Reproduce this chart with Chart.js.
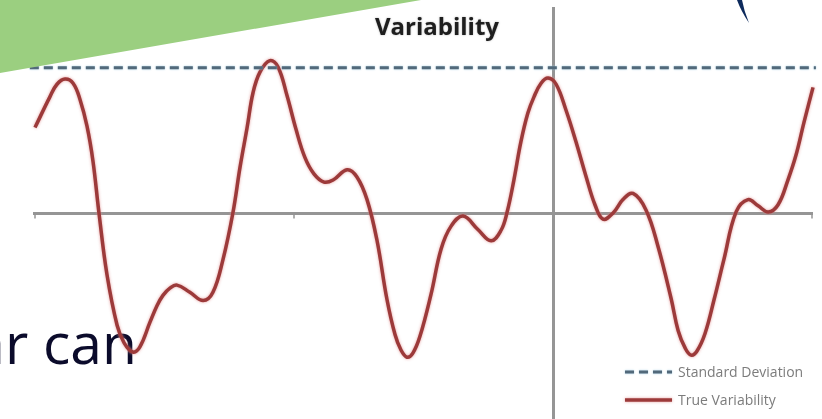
<!DOCTYPE html>
<html>
<head>
<meta charset="utf-8">
<script src="https://cdn.jsdelivr.net/npm/chart.js@4.4.1/dist/chart.umd.min.js"></script>
<style>
  html, body { margin: 0; padding: 0; background: #ffffff; }
  #wrap { position: relative; width: 822px; height: 419px; overflow: hidden; background: #fff; }
  #bigText { position: absolute; left: -200px; top: 314px; width: 337px; text-align: right;
    font-family: "Open Sans", sans-serif; font-size: 57px; line-height: 57px; color: #0b0b2b; white-space: nowrap; }
  #chartTitle { position: absolute; left: 337px; top: 13px; width: 200px; text-align: center;
    font-family: "Open Sans", sans-serif; font-weight: bold; font-size: 24px; line-height: 25px; color: #1e1e1e;
    text-shadow: 0 0 2px rgba(140,140,140,0.7); }
  canvas#c { position: absolute; left: 0; top: 0; }
  svg#deco { position: absolute; left: 0; top: 0; pointer-events: none; }
</style>
</head>
<body>
<div id="wrap">
  <div id="bigText">ar can</div>
  <canvas id="c" width="822" height="419"></canvas>
  <div id="chartTitle">Variability</div>
  <svg id="deco" width="822" height="419">
    <polygon points="0,0 421,0 0,73" fill="#9bcf80"/>
    <path d="M737,0 L742,0 Q744,11 749,23 Q741,11 737,0 Z" fill="#0d2a5c"/>
  </svg>
</div>
<script>
// ---- data ----
const seriesNames = ["Standard Deviation", "True Variability"];
const stdDevValue = 1.41;
const stdDevX = [-0.2, 30.15];
const trueX = [0.00, 0.58, 0.85, 1.16, 1.47, 1.74, 2.01, 2.24, 2.47, 2.78, 3.17, 3.44, 3.78, 4.05, 4.44, 4.71, 4.94, 5.21, 5.48, 5.98, 6.49, 6.87, 7.26, 7.64,
  7.92, 8.19, 8.42, 8.69, 9.07, 9.38, 9.73, 10.08, 10.42, 10.77, 11.16, 11.51, 12.05, 12.43, 12.82, 13.20, 13.59, 13.90, 14.13, 14.36, 14.59, 14.86,
  15.29, 15.68, 16.06, 16.53, 17.10, 17.61, 17.99, 18.22, 18.49, 18.76, 19.03, 19.27, 19.54, 19.81, 20.12, 20.50, 20.89, 21.27, 21.62, 21.93,
  22.32, 22.70, 23.09, 23.59, 24.05, 24.56, 24.83, 25.10, 25.33, 25.56, 25.87, 26.22, 26.60, 27.07, 27.53, 27.92, 28.31, 28.69, 29.07, 29.38, 29.69, 30.04];
const trueY = [0.83, 1.13, 1.25, 1.30, 1.26, 1.10, 0.84, 0.50, 0.00, -0.60, -1.09, -1.26, -1.35, -1.30, -1.06, -0.90, -0.80, -0.73, -0.70, -0.77, -0.85, -0.77, -0.45, 0.00,
  0.45, 0.83, 1.17, 1.37, 1.48, 1.42, 1.14, 0.81, 0.54, 0.38, 0.30, 0.32, 0.42, 0.35, 0.13, -0.26, -0.84, -1.18, -1.33, -1.40, -1.36, -1.20,
  -0.79, -0.35, -0.13, -0.03, -0.16, -0.27, -0.17, 0.00, 0.32, 0.69, 0.97, 1.13, 1.26, 1.31, 1.25, 1.00, 0.69, 0.36, 0.08, -0.06,
  0.00, 0.13, 0.19, 0.03, -0.32, -0.83, -1.14, -1.31, -1.38, -1.34, -1.17, -0.84, -0.45, 0.01, 0.13, 0.07, 0.01, 0.08, 0.32, 0.56, 0.88, 1.22];
const xTicks = [0, 10, 20, 30];
const yAxisAtX = 20;

const stdPoints = stdDevX.map(x => ({ x: x, y: stdDevValue }));
const truePoints = trueX.map((x, i) => ({ x: x, y: trueY[i] }));

const axesPlugin = {
  id: 'axesPlugin',
  beforeDatasetsDraw(chart) {
    const { ctx, chartArea, scales } = chart;
    const xs = scales.x, ys = scales.y;
    const y0 = Math.round(ys.getPixelForValue(0)) + 0.5;
    const xv = Math.round(xs.getPixelForValue(yAxisAtX)) + 0.5;
    ctx.save();
    ctx.strokeStyle = '#959595';
    ctx.lineWidth = 3;
    ctx.beginPath();
    ctx.moveTo(xs.getPixelForValue(xTicks[0]) - 2, y0);
    ctx.lineTo(xs.getPixelForValue(xTicks[xTicks.length - 1]) + 1, y0);
    ctx.stroke();
    ctx.lineWidth = 1.5;
    xTicks.forEach(t => {
      const px = xs.getPixelForValue(t);
      ctx.beginPath();
      ctx.moveTo(px, y0);
      ctx.lineTo(px, y0 + 5);
      ctx.stroke();
    });
    ctx.lineWidth = 3;
    ctx.beginPath();
    ctx.moveTo(xv, chartArea.top);
    ctx.lineTo(xv, chartArea.bottom + 5);
    ctx.stroke();
    ctx.restore();
  },
  beforeDatasetDraw(chart, args) {
    const ctx = chart.ctx;
    ctx.save();
    if (args.index === 1) {
      ctx.shadowColor = 'rgba(225,140,140,0.85)';
      ctx.shadowBlur = 3;
    } else {
      ctx.shadowColor = 'rgba(150,200,225,0.9)';
      ctx.shadowBlur = 2;
    }
  },
  afterDatasetDraw(chart) {
    chart.ctx.restore();
  },
  afterDraw(chart) {
    const ctx = chart.ctx;
    const ds = chart.data.datasets;
    const x1 = 625, x2 = 672, tx = 678;
    const rows = [372, 400];
    ctx.save();
    ctx.font = '14px "Open Sans", sans-serif';
    ctx.textBaseline = 'middle';
    ds.forEach((d, i) => {
      const y = rows[i];
      ctx.save();
      ctx.strokeStyle = d.borderColor;
      ctx.lineWidth = d.borderWidth;
      ctx.setLineDash(d.borderDash || []);
      if (i === 1) { ctx.shadowColor = 'rgba(225,140,140,0.85)'; ctx.shadowBlur = 3; }
      else { ctx.shadowColor = 'rgba(150,200,225,0.9)'; ctx.shadowBlur = 2; }
      ctx.beginPath();
      ctx.moveTo(x1, y);
      ctx.lineTo(x2, y);
      ctx.stroke();
      ctx.restore();
      ctx.fillStyle = '#7c7c7c';
      ctx.fillText(d.label, tx, y + 1);
    });
    ctx.restore();
  }
};

new Chart(document.getElementById('c'), {
  type: 'scatter',
  data: {
    datasets: [
      {
        label: seriesNames[0],
        data: stdPoints,
        showLine: true,
        borderColor: '#52697a',
        borderWidth: 3,
        borderDash: [9, 5],
        pointRadius: 0,
        clip: false
      },
      {
        label: seriesNames[1],
        data: truePoints,
        showLine: true,
        borderColor: '#9c3a3a',
        borderWidth: 3.5,
        tension: 0.4,
        pointRadius: 0,
        clip: false
      }
    ]
  },
  options: {
    responsive: false,
    animation: false,
    devicePixelRatio: 1,
    layout: { padding: { left: 35, right: 10, top: 7, bottom: 0 } },
    scales: {
      x: { type: 'linear', min: 0, max: 30, display: false },
      y: { type: 'linear', min: -2, max: 2, display: false }
    },
    plugins: {
      legend: { display: false },
      title: { display: false },
      tooltip: { enabled: false }
    }
  },
  plugins: [axesPlugin]
});
</script>
</body>
</html>
